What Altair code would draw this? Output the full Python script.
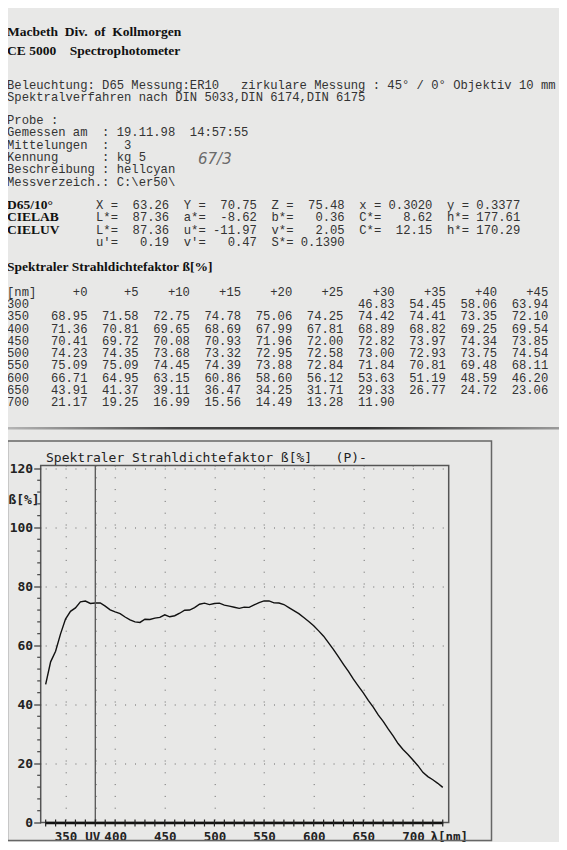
import altair as alt
import pandas as pd

# ---------------- data ----------------
offsets = [0, 5, 10, 15, 20, 25, 30, 35, 40, 45]
row_starts = [300, 350, 400, 450, 500, 550, 600, 650, 700]
row_300 = [None, None, None, None, None, None, 46.83, 54.45, 58.06, 63.94]
row_350 = [68.95, 71.58, 72.75, 74.78, 75.06, 74.25, 74.42, 74.41, 73.35, 72.10]
row_400 = [71.36, 70.81, 69.65, 68.69, 67.99, 67.81, 68.89, 68.82, 69.25, 69.54]
row_450 = [70.41, 69.72, 70.08, 70.93, 71.96, 72.00, 72.82, 73.97, 74.34, 73.85]
row_500 = [74.23, 74.35, 73.68, 73.32, 72.95, 72.58, 73.00, 72.93, 73.75, 74.54]
row_550 = [75.09, 75.09, 74.45, 74.39, 73.88, 72.84, 71.84, 70.81, 69.48, 68.11]
row_600 = [66.71, 64.95, 63.15, 60.86, 58.60, 56.12, 53.63, 51.19, 48.59, 46.20]
row_650 = [43.91, 41.37, 39.11, 36.47, 34.25, 31.71, 29.33, 26.77, 24.72, 23.06]
row_700 = [21.17, 19.25, 16.99, 15.56, 14.49, 13.28, 11.90, None, None, None]
rows = [row_300, row_350, row_400, row_450, row_500, row_550, row_600, row_650, row_700]

x_label_values = [350, 380, 400, 450, 500, 550, 600, 650, 700]
uv_nm = [380]
x_minor_ticks = list(range(330, 731, 10))
y_label_values = [0, 20, 40, 60, 80, 100, 120]
y_minor_ticks = [v for v in range(0, 121, 4) if v % 20]

title_lines = ["Macbeth  Div.  of  Kollmorgen", "CE 5000    Spectrophotometer"]
info_lines = [
    "Beleuchtung: D65 Messung:ER10   zirkulare Messung : 45° / 0° Objektiv 10 mm",
    "Spektralverfahren nach DIN 5033,DIN 6174,DIN 6175",
]
probe_lines = [
    "Probe :",
    "Gemessen am  : 19.11.98  14:57:55",
    "Mittelungen  :  3",
    "Kennung      : kg 5",
    "Beschreibung : hellcyan",
    "Messverzeich.: C:\\er50\\",
]
handnote = "67/3"
color_labels = ["D65/10°", "CIELAB", "CIELUV", ""]
color_lines = [
    "X =  63.26  Y =  70.75  Z =  75.48  x = 0.3020  y = 0.3377",
    "L*=  87.36  a*=  -8.62  b*=   0.36  C*=   8.62  h*= 177.61",
    "L*=  87.36  u*= -11.97  v*=   2.05  C*=  12.15  h*= 170.29",
    " u'=   0.19  v'=   0.47  S*= 0.1390",
]
section_title = "Spektraler Strahldichtefaktor ß[%]"
plot_title = "Spektraler Strahldichtefaktor ß[%]   (P)-"

# line data built from the table
pts = []
for start, vals in zip(row_starts, rows):
    for off, v in zip(offsets, vals):
        if v is not None:
            pts.append({"nm": start + off, "beta": v})
df = pd.DataFrame(pts)

# table text built from the table
table_header = "[nm]" + "".join(f"{('+' + str(o)):>7}" for o in offsets)
table_lines = [table_header]
for start, vals in zip(row_starts, rows):
    s = f"{start:<4d}" + "".join(("       " if v is None else f"{v:7.2f}") for v in vals)
    table_lines.append(s.rstrip())

# ---------------- layout ----------------
W, H = 408, 357
OX, OY = 40.7, 465.5           # page position of plot origin
PL, PT = OX - 8, OY - 8

def cx(px):
    return px - OX

def cy(py):
    return py - OY

NB = "\u00a0"
MONO = "Liberation Mono"
MONO_SIZE = 12.2
SERIF = "Liberation Serif"
DOS = "DejaVu Sans Mono"

def txt(s, px, py, font, size, weight="normal", color="#333", baseline="middle",
        align="left", style="normal"):
    return alt.Chart(pd.DataFrame({"t": [s.replace(" ", NB)]})).mark_text(
        align=align, baseline=baseline, font=font, fontSize=size,
        fontWeight=weight, color=color, fontStyle=style
    ).encode(x=alt.value(cx(px)), y=alt.value(cy(py)), text="t:N")

layers = []

# header
layers.append(txt(title_lines[0], 7, 36, SERIF, 13.5, "bold", "#111", "alphabetic"))
layers.append(txt(title_lines[1], 7, 55, SERIF, 13.5, "bold", "#111", "alphabetic"))
for i, s in enumerate(info_lines):
    layers.append(txt(s, 7, 85 + 12 * i, MONO, MONO_SIZE))
for i, s in enumerate(probe_lines):
    layers.append(txt(s, 7, 120 + 12.3 * i, MONO, MONO_SIZE))
layers.append(txt(handnote, 198, 164, "DejaVu Sans", 15, "normal", "#6a6a6a",
                  "alphabetic", style="italic"))
for i, (lab, s) in enumerate(zip(color_labels, color_lines)):
    y = 205 + 12.4 * i
    if lab:
        layers.append(txt(lab, 7, y, SERIF, 13.5, "bold", "#111"))
    layers.append(txt(s, 96, y, MONO, MONO_SIZE))
layers.append(txt(section_title, 7, 267, SERIF, 13.5, "bold", "#111"))
for i, s in enumerate(table_lines):
    y = 291.5 if i == 0 else 304 + 12.25 * (i - 1)
    layers.append(txt(s, 7, y, MONO, MONO_SIZE))

# separator line
sep = alt.Chart(pd.DataFrame({"a": [0]})).mark_rect(
    fill=alt.Gradient(
        gradient="linear", x1=0, x2=1, y1=0, y2=0,
        stops=[alt.GradientStop(offset=0, color="#b5b5b5"),
               alt.GradientStop(offset=0.3, color="#444444"),
               alt.GradientStop(offset=0.65, color="#333333"),
               alt.GradientStop(offset=1, color="#9a9a9a")])
).encode(x=alt.value(cx(8)), x2=alt.value(cx(559)), y=alt.value(cy(427)), y2=alt.value(cy(429.5)))
layers.append(sep)

# outer frame
frame = alt.Chart(pd.DataFrame({"a": [0]})).mark_rect(
    fillOpacity=0, stroke="#666", strokeWidth=1.5
).encode(x=alt.value(cx(7.5)), x2=alt.value(cx(491.5)), y=alt.value(cy(441)), y2=alt.value(cy(840.5)))
layers.append(frame)

# plot title
layers.append(txt(plot_title, 46, 461.7, DOS, 13, "normal", "#222", "alphabetic"))

# main line with axes
x_scale = alt.Scale(domain=[325, 736], nice=False, zero=False)
y_scale = alt.Scale(domain=[0, 121], nice=False, zero=True)

x_axis = alt.Axis(
    values=x_label_values, format="d",
    labelExpr="datum.value == 380 ? 'UV' : datum.label",
    labelAlign={"condition": {"test": "datum.value == 380", "value": "right"}, "value": "center"},
    labelOffset={"condition": {"test": "datum.value == 380", "value": 4.5}, "value": 0},
    domain=False, ticks=False, labelPadding=7.6, labelFlush=False,
    labelFont=DOS, labelFontWeight="bold", labelFontSize=12.5, labelColor="#222",
    grid=True, gridColor="#666", gridWidth=1, gridDash=[1, 10.8], gridDashOffset=0.5,
    title="λ[nm]", titleX=cx(430), titleY=7.6, titleAlign="left", titleBaseline="top",
    titleAngle=0, titleFont=DOS, titleFontWeight="bold", titleFontSize=12.5, titleColor="#222",
)
y_axis = alt.Axis(
    values=y_label_values, format="d",
    domain=False, ticks=True, tickSize=7, tickColor="#444", tickWidth=1.3,
    labelPadding=1, labelFont=DOS, labelFontWeight="bold", labelFontSize=13,
    labelColor="#222",
    grid=True, gridColor="#666", gridWidth=1, gridDash=[1, 8.927], gridDashOffset=5.46,
    title="ß[%]", titleAngle=0, titleX=-1.5, titleY=33.5, titleAlign="right",
    titleBaseline="middle", titleFont=DOS, titleFontWeight="bold", titleFontSize=13,
    titleColor="#222",
)

line = alt.Chart(df).mark_line(color="#111", strokeWidth=1.4).encode(
    x=alt.X("nm:Q", scale=x_scale, axis=x_axis),
    y=alt.Y("beta:Q", scale=y_scale, axis=y_axis),
)

uv = alt.Chart(pd.DataFrame({"nm": uv_nm})).mark_rule(color="#555", strokeWidth=1.3).encode(
    x="nm:Q")

bar = alt.Chart(pd.DataFrame({"nm": [min(x_minor_ticks)], "nm2": [max(x_minor_ticks)]})).mark_rule(
    color="#111", strokeWidth=2.5).encode(x="nm:Q", x2="nm2:Q", y=alt.value(H + 0.5))

xt = alt.Chart(pd.DataFrame({"nm": x_minor_ticks})).mark_rule(color="#222", strokeWidth=1.2).encode(
    x="nm:Q", y=alt.value(H - 3), y2=alt.value(H + 4))

yt = alt.Chart(pd.DataFrame({"beta": y_minor_ticks})).mark_rule(color="#444", strokeWidth=1.2).encode(
    x=alt.value(-3.5), x2=alt.value(0), y="beta:Q")

chart = alt.layer(line, uv, bar, xt, yt, *layers).properties(
    width=W, height=H,
    padding={"left": PL, "top": PT, "right": 551 - PL - W, "bottom": 834 - PT - H},
    autosize=alt.AutoSizeParams(type="none"),
    background="#e8e8e7",
).configure_view(stroke="#555", strokeWidth=1.5)

chart.save("out.html", embed_options={"renderer": "svg", "actions": False})
